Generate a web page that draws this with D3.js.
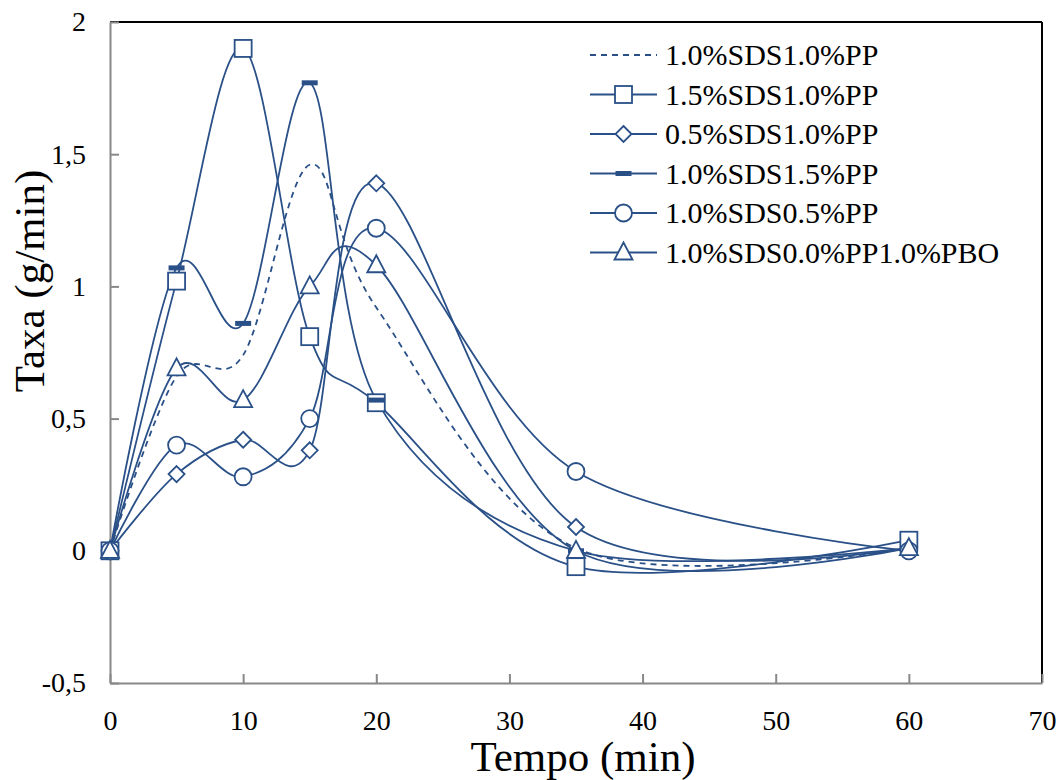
<!DOCTYPE html>
<html><head><meta charset="utf-8">
<script src="https://cdn.jsdelivr.net/npm/d3@7"></script>
<style>body{margin:0;background:#fff}svg{display:block}text{font-family:"Liberation Serif","Times New Roman",serif;fill:#000}</style>
</head><body><svg id="c" width="1062" height="780"></svg>
<script>
const times = [0, 5, 10, 15, 20, 35, 60];
const seriesNames = ["1.0%SDS1.0%PP","1.5%SDS1.0%PP","0.5%SDS1.0%PP","1.0%SDS1.5%PP","1.0%SDS0.5%PP","1.0%SDS0.0%PP1.0%PBO"];
const s_10_10 = [0, 0.66, 0.74, 1.46, 0.92, 0.01, 0.01];
const s_15_10 = [0, 1.02, 1.90, 0.81, 0.56, -0.06, 0.04];
const s_05_10 = [0, 0.29, 0.42, 0.38, 1.39, 0.09, 0.01];
const s_10_15 = [0, 1.07, 0.86, 1.77, 0.57, 0.00, 0.01];
const s_10_05 = [0, 0.40, 0.28, 0.50, 1.22, 0.30, 0.00];
const s_10_00_PBO = [0, 0.69, 0.57, 1.00, 1.08, 0.00, 0.01];
const seriesValues = [s_10_10, s_15_10, s_05_10, s_10_15, s_10_05, s_10_00_PBO];
const markers = ["none","square","diamond","bar","circle","triangle"];
const xTicks = [0,10,20,30,40,50,60,70];
const yTicks = [-0.5,0,0.5,1,1.5,2];
const yTickLabels = ["-0,5","0","0,5","1","1,5","2"];

const col = "#2A5088";
const svg = d3.select("#c");
const L=110,R=1042,T=22,B=683;
const x = d3.scaleLinear().domain([0,70]).range([L,R]);
const y = d3.scaleLinear().domain([-0.5,2]).range([B,T]);

// frame
svg.append("line").attr("x1",L).attr("x2",R).attr("y1",T).attr("y2",T).attr("stroke","#000").attr("stroke-width",2);
svg.append("line").attr("x1",R).attr("x2",R).attr("y1",T).attr("y2",B).attr("stroke","#000").attr("stroke-width",2);

const yAxis = svg.append("g").attr("transform",`translate(${L},0)`)
  .call(d3.axisLeft(y).tickValues(yTicks).tickSizeInner(-9).tickSizeOuter(0).tickFormat((d,i)=>yTickLabels[i]).tickPadding(24));
yAxis.selectAll("path,line").attr("stroke","#888").attr("stroke-width",2);
yAxis.selectAll("text").style("font-family","Liberation Serif").style("font-size","28px").attr("fill","#000");

const xAxis = svg.append("g").attr("transform",`translate(0,${B})`)
  .call(d3.axisBottom(x).tickValues(xTicks).tickSizeInner(-9).tickSizeOuter(0).tickPadding(27));
xAxis.selectAll("path,line").attr("stroke","#888").attr("stroke-width",2);
xAxis.selectAll("text").style("font-family","Liberation Serif").style("font-size","28px").attr("fill","#000");

svg.append("text").attr("x",583).attr("y",771).attr("text-anchor","middle").style("font-size","43px").text("Tempo (min)");
svg.append("text").attr("transform","translate(44,281) rotate(-90)").attr("text-anchor","middle").style("font-size","43px").text("Taxa (g/min)");

const line = d3.line().x((d,i)=>x(times[i])).y(d=>y(d)).curve(d3.curveCardinal.tension(0));
const plot = svg.append("g");
seriesValues.forEach((vals,k)=>{
  plot.append("path").attr("d",line(vals)).attr("fill","none").attr("stroke",col).attr("stroke-width",1.8)
    .attr("stroke-dasharray", k===0 ? "6,5" : null);
});
function drawMarker(g, type, cx, cy){
  if(type==="square") g.append("rect").attr("x",cx-8.5).attr("y",cy-8.5).attr("width",17).attr("height",17).attr("fill","#fff").attr("stroke",col).attr("stroke-width",1.8);
  else if(type==="circle") g.append("circle").attr("cx",cx).attr("cy",cy).attr("r",8.5).attr("fill","#fff").attr("stroke",col).attr("stroke-width",1.8);
  else if(type==="diamond") g.append("path").attr("d",`M${cx},${cy-8}L${cx+8},${cy}L${cx},${cy+8}L${cx-8},${cy}Z`).attr("fill","#fff").attr("stroke",col).attr("stroke-width",1.8);
  else if(type==="triangle") g.append("path").attr("d",`M${cx},${cy-10}L${cx+9},${cy+7}L${cx-9},${cy+7}Z`).attr("fill","#fff").attr("stroke",col).attr("stroke-width",1.8);
  else if(type==="bar") g.append("rect").attr("x",cx-8).attr("y",cy-2.5).attr("width",16).attr("height",5).attr("fill",col);
}
seriesValues.forEach((vals,k)=>{
  if(markers[k]==="none") return;
  const g = plot.append("g");
  vals.forEach((v,i)=>drawMarker(g, markers[k], x(times[i]), y(v)));
});

// legend
const lg = svg.append("g");
seriesNames.forEach((n,k)=>{
  const yy = 55 + k*39.5;
  lg.append("line").attr("x1",590).attr("x2",657).attr("y1",yy).attr("y2",yy).attr("stroke",col).attr("stroke-width",1.8).attr("stroke-dasharray",k===0?"6,5":null);
  drawMarker(lg, markers[k], 623.5, yy);
  lg.append("text").attr("x",665).attr("y",yy+10).style("font-size","30px").text(n);
});
</script></body></html>
